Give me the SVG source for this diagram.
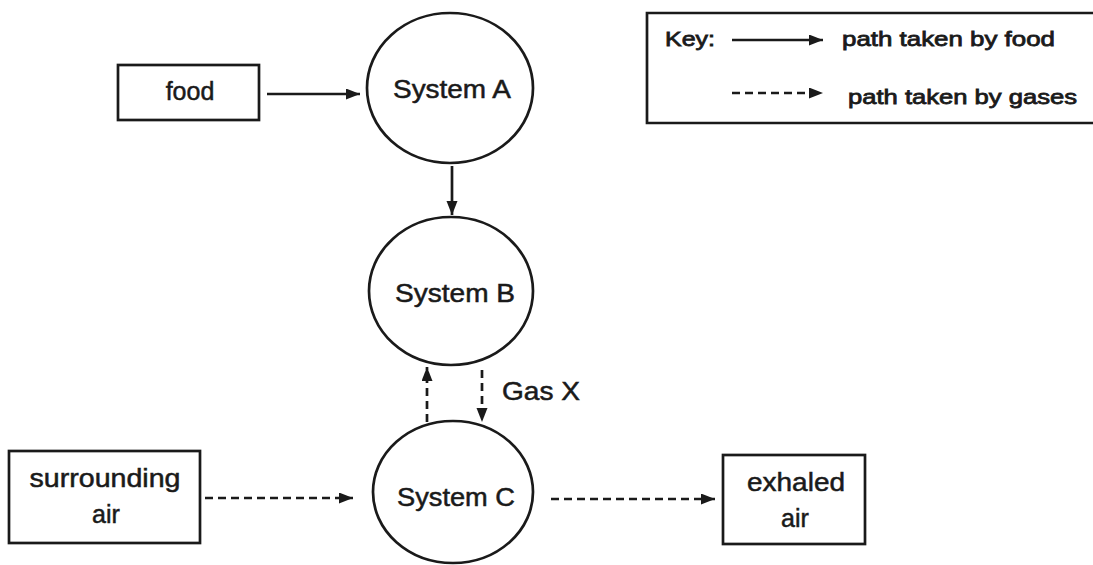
<svg xmlns="http://www.w3.org/2000/svg" width="1093" height="565" viewBox="0 0 1093 565">
<style>
  .shape { fill: none; stroke: #1a1a1a; stroke-width: 2.7; }
  .lbl { font-family: "Liberation Sans", Arial, sans-serif; font-size: 25px; fill: #1a1a1a; stroke: #1a1a1a; stroke-width: 0.5; }
  .key { font-family: "Liberation Sans", Arial, sans-serif; font-size: 21px; fill: #1a1a1a; stroke: #1a1a1a; stroke-width: 0.8; }
  .solid { stroke: #1a1a1a; stroke-width: 2.7; fill: none; marker-end: url(#arrow); }
  .dash { stroke: #1a1a1a; stroke-width: 2.7; fill: none; stroke-dasharray: 8 5; marker-end: url(#arrow); }
</style>
<defs>
  <marker id="arrow" markerUnits="userSpaceOnUse" markerWidth="15" markerHeight="12" refX="14" refY="5.5" orient="auto">
    <path d="M0,0 L14,5.5 L0,11 z" fill="#1a1a1a"/>
  </marker>
</defs>
<rect width="1093" height="565" fill="#ffffff"/>

<g id="key">
  <path class="shape" d="M1100,13 H647 V123 H1100"/>
  <text class="key" x="665" y="46" textLength="50" lengthAdjust="spacingAndGlyphs">Key:</text>
  <line class="solid" x1="732" y1="40" x2="823" y2="40"/>
  <text class="key" x="842" y="46" textLength="213" lengthAdjust="spacingAndGlyphs">path taken by food</text>
  <line class="dash" x1="732" y1="93" x2="823" y2="93"/>
  <text class="key" x="848" y="104" textLength="229" lengthAdjust="spacingAndGlyphs">path taken by gases</text>
</g>

<g id="food">
  <rect class="shape" x="118" y="65" width="141" height="55"/>
  <text class="lbl" x="190" y="100" text-anchor="middle">food</text>
</g>

<g id="systemA">
  <ellipse class="shape" cx="450" cy="88" rx="83" ry="75"/>
  <text class="lbl" x="452" y="98" text-anchor="middle" textLength="118" lengthAdjust="spacingAndGlyphs">System A</text>
</g>

<g id="systemB">
  <ellipse class="shape" cx="451" cy="291" rx="82" ry="74"/>
  <text class="lbl" x="455" y="302" text-anchor="middle" textLength="120" lengthAdjust="spacingAndGlyphs">System B</text>
</g>

<g id="systemC">
  <ellipse class="shape" cx="453" cy="492" rx="80" ry="71"/>
  <text class="lbl" x="456" y="506" text-anchor="middle" textLength="118" lengthAdjust="spacingAndGlyphs">System C</text>
</g>

<g id="surroundingAir">
  <rect class="shape" x="9" y="451" width="191" height="92"/>
  <text class="lbl" x="105" y="487" text-anchor="middle" textLength="151" lengthAdjust="spacingAndGlyphs">surrounding</text>
  <text class="lbl" x="106" y="523" text-anchor="middle">air</text>
</g>

<g id="exhaledAir">
  <rect class="shape" x="723" y="455" width="142" height="89"/>
  <text class="lbl" x="796" y="491" text-anchor="middle" textLength="98" lengthAdjust="spacingAndGlyphs">exhaled</text>
  <text class="lbl" x="795" y="527" text-anchor="middle">air</text>
</g>

<g id="connectors">
  <line class="solid" x1="267" y1="94" x2="360" y2="94"/>
  <line class="solid" x1="452" y1="166" x2="452" y2="215"/>
  <line class="dash" x1="427" y1="422" x2="427" y2="367"/>
  <line class="dash" x1="482" y1="370" x2="482" y2="422"/>
  <line class="dash" x1="205" y1="498" x2="353" y2="498"/>
  <line class="dash" x1="551" y1="499" x2="715" y2="499"/>
  <text class="lbl" x="502" y="400" textLength="78" lengthAdjust="spacingAndGlyphs">Gas X</text>
</g>
</svg>
